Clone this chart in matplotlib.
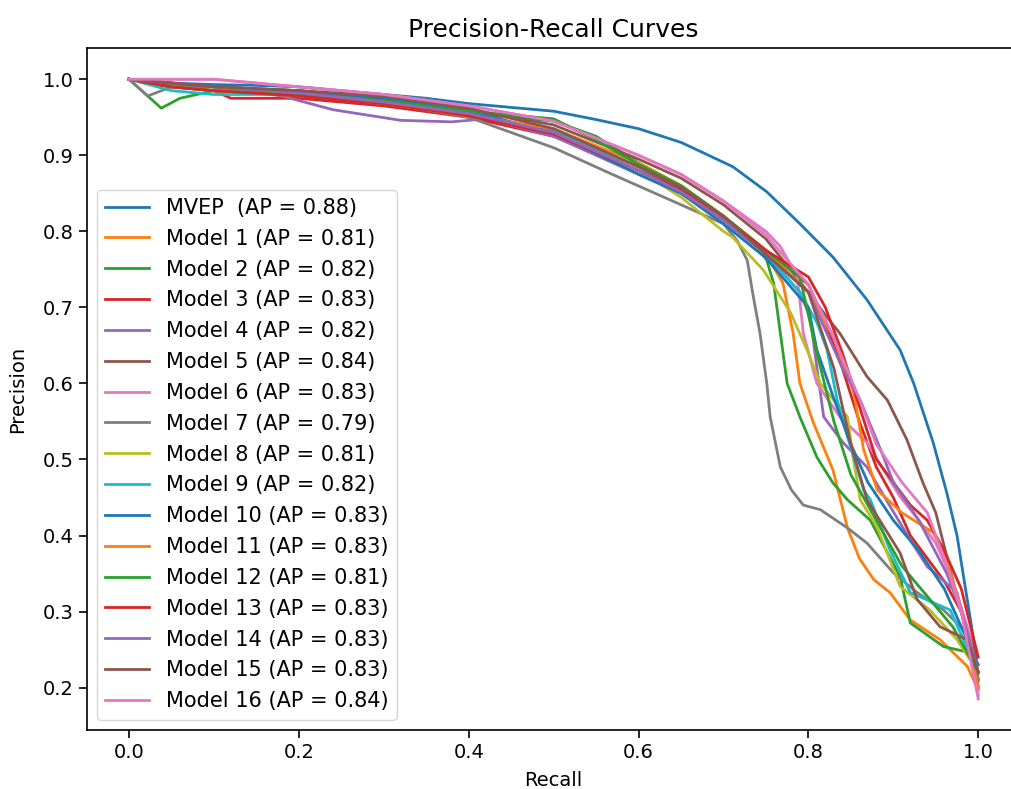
import matplotlib
matplotlib.use("Agg")
import matplotlib.pyplot as plt

# recall / precision points
mvep_r = [0, 0.05, 0.1, 0.15, 0.2, 0.25, 0.3, 0.35, 0.4, 0.45, 0.5, 0.55, 0.6, 0.65, 0.673, 0.711,
          0.751, 0.79, 0.829, 0.869, 0.908, 0.924, 0.947, 0.963, 0.975, 0.985, 0.995, 1.0]
mvep_p = [1.0, 0.995, 0.993, 0.992, 0.99, 0.985, 0.98, 0.975, 0.968, 0.963, 0.958, 0.947, 0.935, 0.917,
          0.905, 0.885, 0.852, 0.81, 0.766, 0.71, 0.644, 0.6, 0.522, 0.456, 0.4, 0.33, 0.26, 0.21]

m1_r = [0, 0.1, 0.2, 0.3, 0.4, 0.5, 0.6, 0.65, 0.7, 0.75, 0.77, 0.782, 0.79, 0.806, 0.829, 0.846,
        0.86, 0.877, 0.896, 0.92, 0.955, 0.987, 1.0]
m1_p = [1.0, 0.985, 0.98, 0.97, 0.955, 0.93, 0.885, 0.86, 0.82, 0.77, 0.732, 0.666, 0.6, 0.548, 0.486,
        0.41, 0.37, 0.342, 0.325, 0.289, 0.263, 0.228, 0.197]

m2_r = [0, 0.038, 0.06, 0.1, 0.2, 0.3, 0.4, 0.5, 0.55, 0.6, 0.65, 0.7, 0.74, 0.751, 0.759, 0.767,
        0.775, 0.79, 0.81, 0.829, 0.846, 0.873, 0.908, 0.92, 0.959, 0.99, 1.0]
m2_p = [1.0, 0.962, 0.975, 0.985, 0.982, 0.975, 0.955, 0.945, 0.925, 0.89, 0.86, 0.82, 0.78, 0.762,
        0.732, 0.666, 0.6, 0.556, 0.503, 0.469, 0.447, 0.42, 0.346, 0.285, 0.254, 0.246, 0.21]

m3_r = [0, 0.05, 0.1, 0.12, 0.2, 0.3, 0.4, 0.5, 0.6, 0.65, 0.7, 0.75, 0.8, 0.82, 0.84, 0.86, 0.88,
        0.9, 0.92, 0.94, 0.96, 0.98, 1.0]
m3_p = [1.0, 0.99, 0.985, 0.975, 0.975, 0.965, 0.95, 0.925, 0.88, 0.855, 0.82, 0.775, 0.73, 0.68,
        0.62, 0.55, 0.49, 0.45, 0.4, 0.37, 0.34, 0.3, 0.22]

m4_r = [0, 0.05, 0.1, 0.18, 0.24, 0.32, 0.38, 0.42, 0.5, 0.6, 0.65, 0.7, 0.75, 0.79, 0.802, 0.81,
        0.818, 0.841, 0.869, 0.89, 0.92, 0.94, 0.975, 1.0]
m4_p = [1.0, 0.99, 0.99, 0.978, 0.96, 0.946, 0.944, 0.948, 0.925, 0.875, 0.85, 0.815, 0.77, 0.72,
        0.687, 0.621, 0.556, 0.522, 0.49, 0.45, 0.394, 0.359, 0.325, 0.22]

m5_r = [0, 0.05, 0.1, 0.2, 0.3, 0.4, 0.5, 0.6, 0.65, 0.7, 0.75, 0.8, 0.822, 0.837, 0.869, 0.893,
        0.916, 0.935, 0.95, 0.961, 0.979, 0.996, 1.0]
m5_p = [1.0, 0.995, 0.99, 0.985, 0.975, 0.96, 0.94, 0.895, 0.87, 0.835, 0.79, 0.72, 0.687, 0.666,
        0.609, 0.578, 0.526, 0.469, 0.43, 0.381, 0.302, 0.25, 0.2]

m6_r = [0, 0.05, 0.1, 0.2, 0.3, 0.4, 0.5, 0.6, 0.65, 0.7, 0.75, 0.767, 0.787, 0.794, 0.81, 0.837,
        0.869, 0.908, 0.93, 0.95, 0.97, 0.99, 1.0]
m6_p = [1.0, 1.0, 1.0, 0.99, 0.98, 0.965, 0.945, 0.9, 0.875, 0.84, 0.8, 0.78, 0.74, 0.666, 0.6,
        0.556, 0.522, 0.451, 0.42, 0.39, 0.34, 0.27, 0.19]

m7_r = [0, 0.022, 0.05, 0.1, 0.2, 0.3, 0.4, 0.5, 0.567, 0.65, 0.7, 0.716, 0.728, 0.735, 0.743,
        0.751, 0.755, 0.767, 0.78, 0.794, 0.814, 0.846, 0.869, 0.9, 0.928, 0.959, 0.987, 1.0]
m7_p = [1.0, 0.978, 0.99, 0.99, 0.985, 0.97, 0.95, 0.91, 0.876, 0.835, 0.81, 0.788, 0.762, 0.715,
        0.666, 0.6, 0.556, 0.49, 0.46, 0.44, 0.434, 0.41, 0.39, 0.351, 0.325, 0.302, 0.272, 0.21]

m8_r = [0, 0.05, 0.1, 0.2, 0.3, 0.4, 0.5, 0.6, 0.65, 0.7, 0.711, 0.747, 0.779, 0.8, 0.814, 0.846,
        0.853, 0.861, 0.881, 0.908, 0.943, 0.975, 1.0]
m8_p = [1.0, 0.99, 0.985, 0.978, 0.97, 0.955, 0.93, 0.88, 0.845, 0.8, 0.792, 0.749, 0.693, 0.64,
        0.6, 0.556, 0.5, 0.447, 0.411, 0.333, 0.302, 0.263, 0.22]

m9_r = [0, 0.05, 0.1, 0.2, 0.3, 0.4, 0.5, 0.6, 0.65, 0.7, 0.75, 0.79, 0.81, 0.822, 0.834, 0.846,
        0.865, 0.873, 0.896, 0.92, 0.967, 1.0]
m9_p = [1.0, 0.985, 0.98, 0.98, 0.972, 0.955, 0.932, 0.885, 0.855, 0.815, 0.77, 0.72, 0.68, 0.644,
        0.578, 0.53, 0.46, 0.447, 0.381, 0.325, 0.302, 0.22]

m10_r = [0, 0.05, 0.1, 0.2, 0.3, 0.4, 0.5, 0.6, 0.65, 0.7, 0.75, 0.8, 0.81, 0.83, 0.85, 0.87, 0.9,
         0.93, 0.96, 0.98, 1.0]
m10_p = [1.0, 0.995, 0.99, 0.985, 0.975, 0.958, 0.93, 0.875, 0.85, 0.81, 0.765, 0.7, 0.644, 0.58,
         0.52, 0.47, 0.42, 0.38, 0.33, 0.28, 0.23]

m11_r = [0, 0.05, 0.1, 0.2, 0.3, 0.4, 0.5, 0.6, 0.65, 0.7, 0.75, 0.8, 0.83, 0.853, 0.865, 0.881,
         0.91, 0.947, 0.963, 0.98, 1.0]
m11_p = [1.0, 0.99, 0.985, 0.98, 0.968, 0.952, 0.935, 0.89, 0.86, 0.82, 0.775, 0.72, 0.66, 0.59,
         0.513, 0.46, 0.43, 0.404, 0.368, 0.3, 0.2]

m12_r = [0, 0.05, 0.1, 0.2, 0.3, 0.4, 0.5, 0.55, 0.6, 0.65, 0.7, 0.75, 0.79, 0.81, 0.83, 0.85,
         0.88, 0.91, 0.94, 0.97, 1.0]
m12_p = [1.0, 0.99, 0.985, 0.98, 0.972, 0.958, 0.948, 0.92, 0.888, 0.86, 0.82, 0.775, 0.74, 0.64,
         0.55, 0.48, 0.42, 0.36, 0.32, 0.28, 0.22]

m13_r = [0, 0.05, 0.1, 0.2, 0.3, 0.4, 0.5, 0.6, 0.65, 0.7, 0.75, 0.8, 0.82, 0.84, 0.86, 0.88, 0.9,
         0.92, 0.94, 0.96, 0.98, 1.0]
m13_p = [1.0, 0.99, 0.985, 0.978, 0.968, 0.952, 0.928, 0.88, 0.855, 0.818, 0.775, 0.74, 0.7, 0.64,
         0.57, 0.5, 0.47, 0.44, 0.42, 0.38, 0.33, 0.24]

m14_r = [0, 0.05, 0.1, 0.2, 0.3, 0.4, 0.5, 0.6, 0.65, 0.7, 0.75, 0.8, 0.841, 0.861, 0.885, 0.9,
         0.93, 0.963, 0.98, 1.0]
m14_p = [1.0, 0.995, 0.99, 0.982, 0.97, 0.955, 0.93, 0.88, 0.852, 0.815, 0.77, 0.72, 0.618, 0.578,
         0.513, 0.47, 0.42, 0.35, 0.3, 0.22]

m15_r = [0, 0.05, 0.1, 0.2, 0.3, 0.4, 0.5, 0.6, 0.65, 0.7, 0.75, 0.8, 0.83, 0.85, 0.869, 0.908,
         0.928, 0.955, 0.987, 1.0]
m15_p = [1.0, 0.995, 0.99, 0.985, 0.978, 0.962, 0.935, 0.885, 0.858, 0.82, 0.77, 0.72, 0.62, 0.52,
         0.447, 0.377, 0.316, 0.28, 0.263, 0.22]

m16_r = [0, 0.05, 0.1, 0.2, 0.3, 0.4, 0.5, 0.6, 0.65, 0.7, 0.75, 0.8, 0.83, 0.86, 0.88, 0.91, 0.94,
         0.96, 0.98, 1.0]
m16_p = [1.0, 1.0, 1.0, 0.99, 0.98, 0.965, 0.945, 0.9, 0.875, 0.84, 0.795, 0.73, 0.66, 0.58, 0.52,
         0.47, 0.43, 0.37, 0.3, 0.185]

labels = ["MVEP  (AP = 0.88)", "Model 1 (AP = 0.81)", "Model 2 (AP = 0.82)", "Model 3 (AP = 0.83)",
          "Model 4 (AP = 0.82)", "Model 5 (AP = 0.84)", "Model 6 (AP = 0.83)", "Model 7 (AP = 0.79)",
          "Model 8 (AP = 0.81)", "Model 9 (AP = 0.82)", "Model 10 (AP = 0.83)", "Model 11 (AP = 0.83)",
          "Model 12 (AP = 0.81)", "Model 13 (AP = 0.83)", "Model 14 (AP = 0.83)", "Model 15 (AP = 0.83)",
          "Model 16 (AP = 0.84)"]
recalls = [mvep_r, m1_r, m2_r, m3_r, m4_r, m5_r, m6_r, m7_r, m8_r, m9_r, m10_r, m11_r, m12_r,
           m13_r, m14_r, m15_r, m16_r]
precisions = [mvep_p, m1_p, m2_p, m3_p, m4_p, m5_p, m6_p, m7_p, m8_p, m9_p, m10_p, m11_p, m12_p,
              m13_p, m14_p, m15_p, m16_p]

FS = 14

fig = plt.figure(figsize=(10.11, 7.89), dpi=100)
ax = fig.add_axes([0.0856, 0.0748, 0.924, 0.864])

for r, p, lab in zip(recalls, precisions, labels):
    ax.plot(r, p, lw=2.0, label=lab)

ax.set_title("Precision-Recall Curves", fontsize=18, pad=8)
ax.set_xlabel("Recall", fontsize=FS, labelpad=6)
ax.set_ylabel("Precision", fontsize=FS, labelpad=11)
ax.tick_params(labelsize=FS, length=6, width=1.2)
for s in ax.spines.values():
    s.set_linewidth(1.2)
ax.legend(loc="lower left", fontsize=15, handlelength=2.1, labelspacing=0.52)

fig.savefig("out.png", dpi=100)
